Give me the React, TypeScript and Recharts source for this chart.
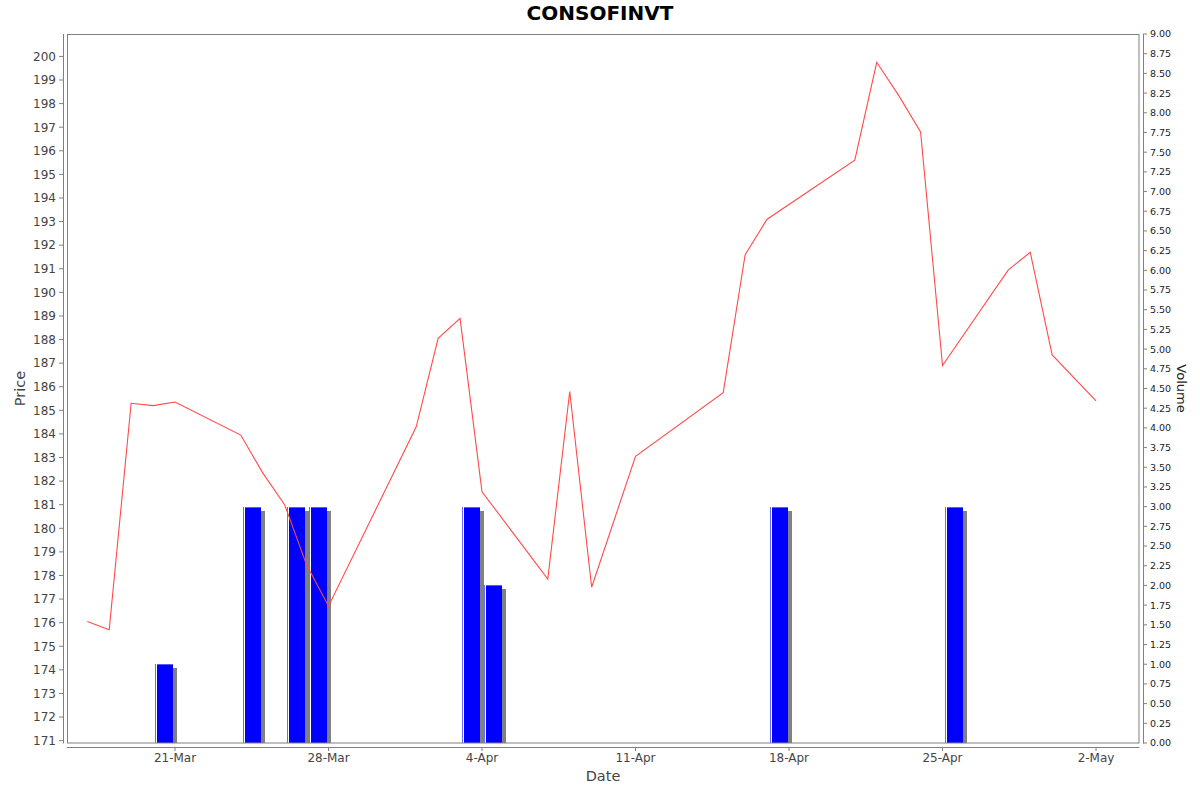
import React from 'react';
import { ComposedChart, Line, Bar, XAxis, YAxis } from 'recharts';

const priceDates = [
  '2014-03-17', '2014-03-18', '2014-03-19', '2014-03-20', '2014-03-21',
  '2014-03-24', '2014-03-25', '2014-03-26', '2014-03-27', '2014-03-28',
  '2014-04-01', '2014-04-02', '2014-04-03', '2014-04-04',
  '2014-04-07', '2014-04-08', '2014-04-09', '2014-04-11',
  '2014-04-15', '2014-04-16', '2014-04-17',
  '2014-04-21', '2014-04-22', '2014-04-23', '2014-04-24', '2014-04-25',
  '2014-04-28', '2014-04-29', '2014-04-30', '2014-05-02',
];
const prices = [
  176.05, 175.7, 185.3, 185.2, 185.35,
  183.95, 182.35, 181.0, 178.45, 176.7,
  184.3, 188.05, 188.9, 181.55,
  177.85, 185.8, 177.5, 183.05,
  185.75, 191.6, 193.1,
  195.6, 199.75, 198.35, 196.8, 186.9,
  190.95, 191.7, 187.35, 185.4,
];

const volumeDates = [
  '2014-03-20', '2014-03-24', '2014-03-26', '2014-03-27',
  '2014-04-03', '2014-04-04', '2014-04-17', '2014-04-25',
];
const volumes = [1, 3, 3, 3, 3, 2, 3, 3];

const dateTicks = ['2014-03-21', '2014-03-28', '2014-04-04', '2014-04-11', '2014-04-18', '2014-04-25', '2014-05-02'];
const priceTicks = Array.from({ length: 30 }, (_, i) => 171 + i);
const volumeTicks = Array.from({ length: 37 }, (_, i) => i * 0.25);

const MONTHS = ['Jan', 'Feb', 'Mar', 'Apr', 'May', 'Jun', 'Jul', 'Aug', 'Sep', 'Oct', 'Nov', 'Dec'];
const DAY = 86400000;
const ms = (s: string) => Date.parse(s + 'T00:00:00Z');

// volume bars span the whole day period, so they sit half a day after the date
const rows = [
  ...priceDates.map((s, i) => ({ t: ms(s), price: prices[i] })),
  ...volumeDates.map((s, i) => ({ t: ms(s) + DAY / 2, volume: volumes[i] })),
].sort((a, b) => a.t - b.t);

const xDomain = [ms('2014-03-16') + 0.075 * DAY, ms('2014-05-03') + 0.96 * DAY];

const FONT = 'DejaVu Sans';
const AXIS = '#808080';
const LABEL = '#444444';
const BAR_W = 18;

const fmtDate = (v: number) => {
  const d = new Date(v);
  return `${d.getUTCDate()}-${MONTHS[d.getUTCMonth()]}`;
};

const DateTick = (props: any) => {
  const { x, y, payload } = props;
  return (
    <g>
      <line x1={x} y1={y + 4} x2={x} y2={y + 8} stroke={AXIS} />
      <text x={x} y={y + 19} textAnchor="middle" fill={LABEL} fontSize={12} fontFamily={FONT}>
        {fmtDate(payload.value)}
      </text>
    </g>
  );
};

const PriceTick = (props: any) => {
  const { x, y, payload } = props;
  return (
    <g>
      <line x1={x - 8} y1={y} x2={x - 4} y2={y} stroke={AXIS} />
      <text x={x - 11} y={y} dy="0.36em" textAnchor="end" fill={LABEL} fontSize={12} fontFamily={FONT}>
        {payload.value}
      </text>
    </g>
  );
};

const VolumeTick = (props: any) => {
  const { x, y, payload } = props;
  return (
    <g>
      <line x1={x + 4} y1={y} x2={x + 8} y2={y} stroke={AXIS} />
      <text x={x + 11} y={y} dy="0.36em" textAnchor="start" fill="#222" fontSize={9.5} fontFamily={FONT}>
        {Number(payload.value).toFixed(2)}
      </text>
    </g>
  );
};

const VolumeBar = (props: any) => {
  const { x, y, width, height, payload } = props;
  if (payload == null || payload.volume == null || !height) return <g />;
  const left = Math.round(x + width / 2 - BAR_W / 2);
  const top = Math.round(y);
  const h = Math.round(y + height) - top;
  return (
    <g shapeRendering="crispEdges">
      <rect x={left + 4} y={top + 4} width={BAR_W} height={h - 4} fill="#808080" />
      <rect x={left} y={top} width={BAR_W} height={h} fill="#0000ff" />
      <rect x={left} y={top} width={1} height={h} fill="#6a6aff" />
      <rect x={left + 1} y={top} width={1} height={h} fill="#ffffff" />
      <rect x={left + 2} y={top} width={BAR_W - 2} height={1} fill="#5a5aff" />
    </g>
  );
};

export default function App() {
  return (
    <div style={{ position: 'absolute', left: 0, top: 0, width: 1200, height: 792, background: '#fff' }}>
      <ComposedChart width={1200} height={792} data={rows} margin={{ top: 34, right: 0, bottom: 0, left: 0 }}>
        <XAxis
          dataKey="t"
          type="number"
          domain={xDomain}
          allowDataOverflow
          ticks={dateTicks.map(ms)}
          interval={0}
          height={49}
          axisLine={false}
          tickLine={false}
          tickSize={0}
          tickMargin={0}
          tick={<DateTick />}
        />
        <YAxis
          yAxisId="price"
          domain={[170.9, 200.95]}
          allowDataOverflow
          ticks={priceTicks}
          interval={0}
          width={67}
          axisLine={false}
          tickLine={false}
          tickSize={0}
          tickMargin={0}
          tick={<PriceTick />}
        />
        <YAxis
          yAxisId="vol"
          orientation="right"
          domain={[0, 9]}
          allowDataOverflow
          ticks={volumeTicks}
          interval={0}
          width={61}
          axisLine={false}
          tickLine={false}
          tickSize={0}
          tickMargin={0}
          tick={<VolumeTick />}
        />
        <Bar yAxisId="vol" dataKey="volume" barSize={17} shape={<VolumeBar />} isAnimationActive={false} />
        <Line
          yAxisId="price"
          dataKey="price"
          type="linear"
          stroke="#ff4a4a"
          strokeWidth={1.1}
          dot={false}
          activeDot={false}
          connectNulls
          isAnimationActive={false}
        />
      </ComposedChart>
      <svg width={1200} height={792} style={{ position: 'absolute', left: 0, top: 0, pointerEvents: 'none' }}>
        <rect x={67.5} y={34.5} width={1071.5} height={708.5} fill="none" stroke={AXIS} />
        <line x1={63.5} y1={34} x2={63.5} y2={743.5} stroke={AXIS} />
        <line x1={1143.5} y1={34} x2={1143.5} y2={743.5} stroke={AXIS} />
        <line x1={67} y1={747.5} x2={1139.5} y2={747.5} stroke={AXIS} />
        <text x={600} y={20} textAnchor="middle" fontSize={20} fontWeight="bold" fontFamily={FONT} fill="#000">
          CONSOFINVT
        </text>
        <text x={603} y={781} textAnchor="middle" fontSize={14.5} fontFamily={FONT} fill={LABEL}>
          Date
        </text>
        <text
          x={25}
          y={388.5}
          textAnchor="middle"
          fontSize={14.5}
          fontFamily={FONT}
          fill={LABEL}
          transform="rotate(-90 25 388.5)"
        >
          Price
        </text>
        <text
          x={1177}
          y={388.5}
          textAnchor="middle"
          fontSize={13}
          fontFamily={FONT}
          fill="#222"
          transform="rotate(90 1177 388.5)"
        >
          Volume
        </text>
      </svg>
    </div>
  );
}
